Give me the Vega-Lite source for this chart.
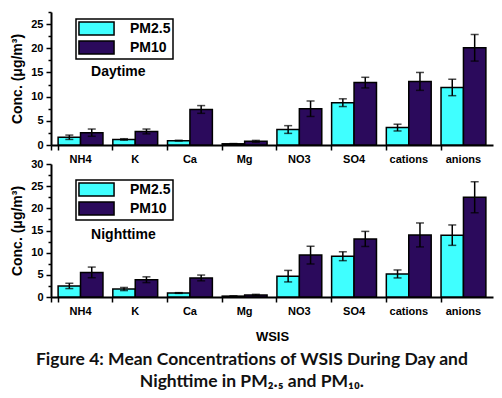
{
  "$schema": "https://vega.github.io/schema/vega-lite/v6.json",
  "background": "white",
  "padding": {"left": 10, "top": 6, "right": 10, "bottom": 5},
  "data": {"values": [
    {"period": "Daytime", "ion": "NH4", "pm": "PM2.5", "value": 1.6, "err": 0.45},
    {"period": "Daytime", "ion": "NH4", "pm": "PM10", "value": 2.55, "err": 0.75},
    {"period": "Daytime", "ion": "K", "pm": "PM2.5", "value": 1.15, "err": 0.15},
    {"period": "Daytime", "ion": "K", "pm": "PM10", "value": 2.8, "err": 0.5},
    {"period": "Daytime", "ion": "Ca", "pm": "PM2.5", "value": 0.9, "err": 0.08},
    {"period": "Daytime", "ion": "Ca", "pm": "PM10", "value": 7.35, "err": 0.8},
    {"period": "Daytime", "ion": "Mg", "pm": "PM2.5", "value": 0.25, "err": 0.05},
    {"period": "Daytime", "ion": "Mg", "pm": "PM10", "value": 0.75, "err": 0.2},
    {"period": "Daytime", "ion": "NO3", "pm": "PM2.5", "value": 3.2, "err": 0.8},
    {"period": "Daytime", "ion": "NO3", "pm": "PM10", "value": 7.5, "err": 1.6},
    {"period": "Daytime", "ion": "SO4", "pm": "PM2.5", "value": 8.75, "err": 0.8},
    {"period": "Daytime", "ion": "SO4", "pm": "PM10", "value": 12.9, "err": 1.1},
    {"period": "Daytime", "ion": "cations", "pm": "PM2.5", "value": 3.6, "err": 0.7},
    {"period": "Daytime", "ion": "cations", "pm": "PM10", "value": 13.15, "err": 1.85},
    {"period": "Daytime", "ion": "anions", "pm": "PM2.5", "value": 11.9, "err": 1.7},
    {"period": "Daytime", "ion": "anions", "pm": "PM10", "value": 20.1, "err": 2.75},
    {"period": "Nighttime", "ion": "NH4", "pm": "PM2.5", "value": 2.5, "err": 0.6},
    {"period": "Nighttime", "ion": "NH4", "pm": "PM10", "value": 5.55, "err": 1.2},
    {"period": "Nighttime", "ion": "K", "pm": "PM2.5", "value": 1.8, "err": 0.35},
    {"period": "Nighttime", "ion": "K", "pm": "PM10", "value": 3.9, "err": 0.65},
    {"period": "Nighttime", "ion": "Ca", "pm": "PM2.5", "value": 0.9, "err": 0.08},
    {"period": "Nighttime", "ion": "Ca", "pm": "PM10", "value": 4.3, "err": 0.65},
    {"period": "Nighttime", "ion": "Mg", "pm": "PM2.5", "value": 0.2, "err": 0.05},
    {"period": "Nighttime", "ion": "Mg", "pm": "PM10", "value": 0.45, "err": 0.15},
    {"period": "Nighttime", "ion": "NO3", "pm": "PM2.5", "value": 4.7, "err": 1.3},
    {"period": "Nighttime", "ion": "NO3", "pm": "PM10", "value": 9.45, "err": 2.0},
    {"period": "Nighttime", "ion": "SO4", "pm": "PM2.5", "value": 9.2, "err": 1.0},
    {"period": "Nighttime", "ion": "SO4", "pm": "PM10", "value": 13.1, "err": 1.7},
    {"period": "Nighttime", "ion": "cations", "pm": "PM2.5", "value": 5.2, "err": 0.9},
    {"period": "Nighttime", "ion": "cations", "pm": "PM10", "value": 14.0, "err": 2.7},
    {"period": "Nighttime", "ion": "anions", "pm": "PM2.5", "value": 13.95, "err": 2.3},
    {"period": "Nighttime", "ion": "anions", "pm": "PM10", "value": 22.5, "err": 3.5}
  ]},
  "title": {
    "text": ["Figure 4: Mean Concentrations of WSIS During Day and", "Nighttime in PM₂.₅ and PM₁₀."],
    "orient": "bottom",
    "anchor": "middle",
    "font": "Lato",
    "fontSize": 17.5,
    "fontWeight": "bold",
    "color": "#111111",
    "lineHeight": 22,
    "offset": 8
  },
  "bounds": "flush",
  "spacing": 19,
  "resolve": {"legend": {"color": "independent"}},
  "vconcat": [
    {
      "width": 442,
      "height": 133,
      "transform": [{"filter": "datum.period === 'Daytime'"}],
      "encoding": {
        "x": {"field": "ion", "type": "nominal", "sort": ["NH4", "K", "Ca", "Mg", "NO3", "SO4", "cations", "anions"], "scale": {"paddingInner": 0.18, "paddingOuter": 0.13}, "axis": {"title": null}},
        "xOffset": {"field": "pm", "type": "nominal", "sort": ["PM2.5", "PM10"], "scale": {"paddingInner": 0, "paddingOuter": 0}},
        "y": {"field": "value", "type": "quantitative", "scale": {"domain": [0, 27.5], "nice": false}, "axis": {"title": "Conc. (μg/m³)", "values": [0, 2.5, 5, 7.5, 10, 12.5, 15, 17.5, 20, 22.5, 25, 27.5], "labelExpr": "datum.value % 5 === 0 ? datum.label : ''", "labelOverlap": false, "labelBound": false}}
      },
      "layer": [
        {
          "mark": {"type": "bar", "stroke": "black", "strokeWidth": 1.5},
          "encoding": {
            "color": {"field": "pm", "type": "nominal", "sort": ["PM2.5", "PM10"], "scale": {"domain": ["PM2.5", "PM10"], "range": ["#3FFFFF", "#2B0A5C"]}, "legend": {"title": null, "orient": "none", "legendX": 25, "legendY": 7}}
          }
        },
        {
          "mark": {"type": "errorbar", "ticks": {"size": 8, "thickness": 1.5, "color": "black"}, "rule": {"strokeWidth": 1.5, "color": "black"}},
          "encoding": {
            "yError": {"field": "err"}
          }
        },
        {
          "data": {"values": [{"label": "Daytime", "ion": "NH4", "value": 15}]},
          "mark": {"type": "text", "align": "left", "baseline": "middle", "dx": 6, "font": "Liberation Sans", "fontSize": 14, "fontWeight": "bold", "color": "black"},
          "encoding": {
            "xOffset": {"value": 27},
            "text": {"field": "label"}
          }
        }
      ]
    },
    {
      "width": 442,
      "height": 133,
      "transform": [{"filter": "datum.period === 'Nighttime'"}],
      "encoding": {
        "x": {"field": "ion", "type": "nominal", "sort": ["NH4", "K", "Ca", "Mg", "NO3", "SO4", "cations", "anions"], "scale": {"paddingInner": 0.18, "paddingOuter": 0.13}, "axis": {"title": "WSIS", "titleFontSize": 13, "titlePadding": 14}},
        "xOffset": {"field": "pm", "type": "nominal", "sort": ["PM2.5", "PM10"], "scale": {"paddingInner": 0, "paddingOuter": 0}},
        "y": {"field": "value", "type": "quantitative", "scale": {"domain": [0, 30], "nice": false}, "axis": {"title": "Conc. (μg/m³)", "values": [0, 2.5, 5, 7.5, 10, 12.5, 15, 17.5, 20, 22.5, 25, 27.5, 30], "labelExpr": "datum.value % 5 === 0 ? datum.label : ''", "labelOverlap": false, "labelBound": false}}
      },
      "layer": [
        {
          "mark": {"type": "bar", "stroke": "black", "strokeWidth": 1.5},
          "encoding": {
            "color": {"field": "pm", "type": "nominal", "sort": ["PM2.5", "PM10"], "scale": {"domain": ["PM2.5", "PM10"], "range": ["#3FFFFF", "#2B0A5C"]}, "legend": {"title": null, "orient": "none", "legendX": 25, "legendY": 16}}
          }
        },
        {
          "mark": {"type": "errorbar", "ticks": {"size": 8, "thickness": 1.5, "color": "black"}, "rule": {"strokeWidth": 1.5, "color": "black"}},
          "encoding": {
            "yError": {"field": "err"}
          }
        },
        {
          "data": {"values": [{"label": "Nighttime", "ion": "NH4", "value": 14}]},
          "mark": {"type": "text", "align": "left", "baseline": "middle", "dx": 6, "font": "Liberation Sans", "fontSize": 14, "fontWeight": "bold", "color": "black"},
          "encoding": {
            "xOffset": {"value": 27},
            "text": {"field": "label"}
          }
        }
      ]
    }
  ],
  "config": {
    "view": {"stroke": null},
    "font": "Liberation Sans",
    "axis": {
      "grid": false,
      "domainColor": "black",
      "domainWidth": 2,
      "tickColor": "black",
      "tickWidth": 1.5,
      "labelFont": "Liberation Sans",
      "labelFontWeight": "bold",
      "labelFontSize": 11,
      "labelColor": "black",
      "titleFont": "Liberation Sans",
      "titleFontWeight": "bold",
      "titleColor": "black"
    },
    "axisX": {"labelAngle": 0, "bandPosition": 0, "tickExtra": true, "tickSize": 5, "labelPadding": 3},
    "axisY": {"tickSize": {"condition": {"test": "datum.value % 5 === 0", "value": 5}, "value": 3}, "labelPadding": 3, "titleFontSize": 14, "titlePadding": 6},
    "legend": {
      "strokeColor": "black",
      "fillColor": "white",
      "strokeWidth": 1.5,
      "padding": 2,
      "rowPadding": 0,
      "symbolType": "M-2.7,-1H2.7V1H-2.7Z",
      "symbolSize": 169,
      "symbolOffset": 11,
      "symbolStrokeColor": "black",
      "symbolStrokeWidth": 1.5,
      "symbolOpacity": 1,
      "labelFont": "Liberation Sans",
      "labelFontSize": 14,
      "labelFontWeight": "bold",
      "labelColor": "black",
      "labelOffset": 26
    }
  }
}
